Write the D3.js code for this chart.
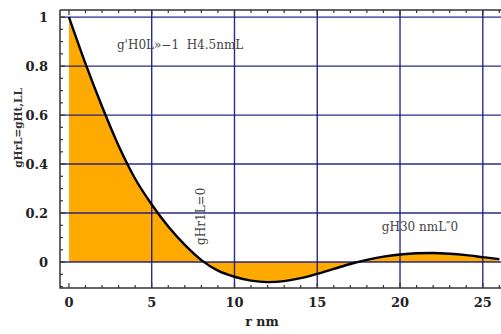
<!DOCTYPE html>
<html><head><meta charset="utf-8">
<script src="https://cdn.jsdelivr.net/npm/d3@7"></script>
<style>html,body{margin:0;padding:0;background:#fff;overflow:hidden}
svg text{font-family:"DejaVu Serif",serif}</style>
</head><body>
<svg id="c" width="501" height="334"></svg>
<script>
const rValues = [0,1,2,3,4,5,6,7,8,9,10,11,12,13,14,15,16,17,18,19,20,21,22,23,24,25,26];
const gValues = [1.0,0.81,0.635,0.475,0.34,0.235,0.145,0.07,0.008,-0.035,-0.06,-0.076,-0.082,-0.078,-0.066,-0.048,-0.028,-0.008,0.009,0.022,0.031,0.036,0.037,0.034,0.028,0.02,0.012];
const xTicks = [0,5,10,15,20,25];
const yTicks = [0,0.2,0.4,0.6,0.8,1];
const yTickLabels = ["0","0.2","0.4","0.6","0.8","1"];
const xMinor = d3.range(0,27,1);
const yMinor = d3.range(-0.1,1.0001,0.05);
const annotations = [
  {text:"g'H0L»−1  H4.5nmL", r:2.9, g:0.87, rot:0},
  {text:"gHr1L=0", r:8.0, g:0.07, rot:-90},
  {text:"gH30 nmL″0", r:18.9, g:0.127, rot:0}
];
const xLabel = "r nm";
const yLabel = "gHrL=gHt,LL";

const svg = d3.select("#c");
const x = d3.scaleLinear().domain([-0.54,26.1]).range([60,501]);
const y = d3.scaleLinear().domain([-0.106,1.029]).range([288,10]);
const data = rValues.map((r,i)=>({r, g:gValues[i]}));

svg.append("path").datum(data)
  .attr("d", d3.area().x(d=>x(d.r)).y0(y(0)).y1(d=>y(d.g)).curve(d3.curveMonotoneX))
  .attr("fill","#FFAA00");

const grid = svg.append("g").attr("stroke","#14147f").attr("stroke-width",1.4).attr("stroke-opacity",0.9);
xTicks.filter(t=>t>0).forEach(t=>grid.append("line").attr("x1",x(t)).attr("x2",x(t)).attr("y1",10).attr("y2",288));
yTicks.forEach(t=>grid.append("line").attr("x1",60).attr("x2",501).attr("y1",y(t)).attr("y2",y(t)));

svg.append("path").datum(data)
  .attr("d", d3.line().x(d=>x(d.r)).y(d=>y(d.g)).curve(d3.curveMonotoneX))
  .attr("fill","none").attr("stroke","#000").attr("stroke-width",2.4);

const fr = svg.append("g").attr("stroke","#333").attr("stroke-width",1.5).attr("fill","none");
fr.append("path").attr("d",`M60,10H501M60,10V288H501`);
xMinor.forEach(t=>{
  const L = t%5===0?5:3;
  fr.append("line").attr("x1",x(t)).attr("x2",x(t)).attr("y1",288).attr("y2",288-L).attr("stroke-width",1.2);
  fr.append("line").attr("x1",x(t)).attr("x2",x(t)).attr("y1",10).attr("y2",10+L).attr("stroke-width",1.2);
});
yMinor.forEach(t=>{
  const tt = Math.round(t*100)/100;
  const major = Math.abs(Math.round(tt*5)-tt*5)<1e-6;
  const L = major?5:3;
  fr.append("line").attr("x1",60).attr("x2",60+L).attr("y1",y(tt)).attr("y2",y(tt)).attr("stroke-width",1.2);
});

svg.append("g").selectAll("text").data(xTicks).join("text")
  .attr("x",d=>x(d)).attr("y",307).attr("text-anchor","middle")
  .attr("font-size",13).attr("font-weight","bold").attr("fill","#222")
  .text(d=>d);
svg.append("g").selectAll("text").data(yTicks).join("text")
  .attr("x",48).attr("y",d=>y(d)+4.5).attr("text-anchor","end")
  .attr("font-size",13).attr("font-weight","bold").attr("fill","#222")
  .text((d,i)=>yTickLabels[i]);

svg.append("text").attr("x",262).attr("y",326).attr("text-anchor","middle")
  .attr("font-size",12.5).attr("font-weight","bold").attr("fill","#222").text(xLabel);
svg.append("text").attr("transform","translate(22,128) rotate(-90)").attr("text-anchor","middle")
  .attr("font-size",10.5).attr("font-weight","bold").attr("fill","#333").text(yLabel);

annotations.forEach(a=>{
  const t = svg.append("text").attr("font-size",12).attr("fill","#444").text(a.text);
  if(a.rot){ t.attr("transform",`translate(${x(a.r)+4},${y(a.g)}) rotate(${a.rot})`).attr("text-anchor","start"); }
  else { t.attr("x",x(a.r)).attr("y",y(a.g)).attr("xml:space","preserve").style("white-space","pre"); }
});
</script>
</body></html>
